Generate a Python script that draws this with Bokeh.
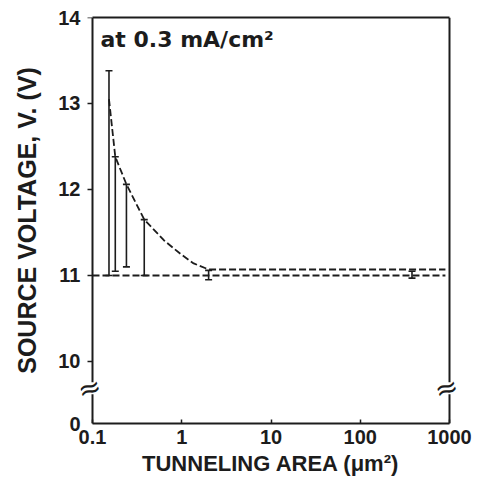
from bokeh.plotting import figure
from bokeh.models import (Range1d, FixedTicker, Whisker, TeeHead, ColumnDataSource,
                          Label, LogAxis, LinearAxis, BoxAnnotation, CustomLabelingPolicy)
from bokeh.embed import file_html
from bokeh.resources import INLINE

# ---- data ----
x_ticks = [0.1, 1, 10, 100, 1000]
x_tick_labels = ["0.1", "1", "10", "100", "1000"]
y_ticks = [10, 11, 12, 13, 14]
y_tick_labels = ["10", "11", "12", "13", "14"]
y_bottom_label = "0"

bar_area = [0.153, 0.18, 0.24, 0.38, 2.0, 380]
bar_high = [13.38, 12.38, 12.06, 11.65, 11.06, 11.05]
bar_low = [11.0, 11.05, 11.10, 11.0, 10.95, 10.97]

upper_area = [0.153, 0.18, 0.24, 0.38, 0.63, 0.97, 1.36, 2.0, 900]
upper_v = [13.05, 12.38, 12.06, 11.65, 11.41, 11.25, 11.14, 11.07, 11.07]

lower_area = [0.1, 900]
lower_v = [11.0, 11.0]

annotation_text = "at 0.3 mA/cm\u00b2"
x_label = "TUNNELING AREA (\u03bcm\u00b2)"
y_label = "SOURCE VOLTAGE, V. (V)"

# ---- layout constants ----
X_LO, X_HI = 0.1, 1000
Y_MIN, Y_MAX = 9.279, 14
BREAK_Y = 9.69
BREAK_HALF = 0.07      # half height of the axis gap (data units)
PX_PER_DEC = 89.25
PAD = 12  # extra frame room (px) left/right of the axis box for the break marks
INK = "#1c1c1c"
FONT = "Liberation Sans"

x_start = X_LO * 10 ** (-PAD / PX_PER_DEC)
x_end = X_HI * 10 ** (PAD / PX_PER_DEC)
gap_f = 10 ** (3 / PX_PER_DEC)

p = figure(frame_width=357 + 2 * PAD, frame_height=406, x_axis_type="log",
           x_range=Range1d(x_start, x_end), y_range=Range1d(Y_MIN, Y_MAX),
           output_backend="svg", toolbar_location=None,
           min_border_left=92 - PAD, min_border_top=17, min_border_right=32,
           min_border_bottom=40, background_fill_color="white",
           border_fill_color="white")

p.outline_line_color = None
p.grid.visible = False

xb = (X_LO * 0.9999, X_HI * 1.0001)
yb = (Y_MIN - 0.0005, Y_MAX + 0.0005)

# bottom x axis
xa = p.xaxis[0]
xa.bounds = xb
xa.ticker = FixedTicker(ticks=x_ticks, minor_ticks=[])
xa.major_label_overrides = {t: l for t, l in zip(x_ticks, x_tick_labels)}
xa.major_tick_in = 4
xa.major_tick_out = 0
xa.minor_tick_in = 0
xa.minor_tick_out = 0
xa.axis_line_width = 2
xa.axis_line_color = INK
xa.major_tick_line_width = 1.5
xa.major_tick_line_color = INK
xa.major_label_standoff = 6
xa.major_label_text_font = FONT
xa.major_label_text_font_style = "bold"
xa.major_label_text_font_size = "20px"
xa.major_label_text_color = INK
xa.axis_label = x_label
xa.axis_label_text_font = FONT
xa.axis_label_text_font_style = "bold"
xa.axis_label_text_font_size = "22px"
xa.axis_label_text_color = INK
xa.axis_label_standoff = 4

# left y axis: labels only (sits at the frame edge)
ya = p.yaxis[0]
ya.ticker = FixedTicker(ticks=[Y_MIN] + y_ticks, minor_ticks=[])
ov = {t: l for t, l in zip(y_ticks, y_tick_labels)}
ov[Y_MIN] = y_bottom_label
ya.major_label_overrides = ov
ya.axis_line_color = None
ya.major_tick_line_color = None
ya.major_tick_in = 0
ya.major_tick_out = 0
ya.minor_tick_in = 0
ya.minor_tick_out = 0
ya.major_label_standoff = 0
ya.major_label_text_font = FONT
ya.major_label_text_font_style = "bold"
ya.major_label_text_font_size = "20px"
ya.major_label_text_color = INK
ya.axis_label = y_label
ya.axis_label_text_font = FONT
ya.axis_label_text_font_style = "bold"
ya.axis_label_text_font_size = "25px"
ya.axis_label_text_color = INK
ya.axis_label_standoff = 14

no_labels = CustomLabelingPolicy(code="for (const i of indices) { indices.unset(i) }\nreturn indices")

# the drawn left axis line with its ticks, pinned at x = 0.1 (ticks point left)
yline = LinearAxis(ticker=FixedTicker(ticks=y_ticks, minor_ticks=[]), bounds=yb,
                   fixed_location=X_LO, axis_line_width=2, axis_line_color=INK,
                   major_tick_in=5, major_tick_out=0, minor_tick_in=0, minor_tick_out=0,
                   major_tick_line_width=1.5, major_tick_line_color=INK,
                   major_label_policy=no_labels)
p.add_layout(yline, "right")

# box: top and right lines as bare axes
top = LogAxis(ticker=FixedTicker(ticks=[], minor_ticks=[]), bounds=xb,
              axis_line_width=2, axis_line_color=INK,
              major_tick_in=0, major_tick_out=0, minor_tick_in=0, minor_tick_out=0)
p.add_layout(top, "above")
right = LinearAxis(ticker=FixedTicker(ticks=[], minor_ticks=[]), bounds=yb,
                   fixed_location=X_HI, axis_line_width=2, axis_line_color=INK,
                   major_tick_in=0, major_tick_out=0, minor_tick_in=0, minor_tick_out=0)
p.add_layout(right, "right")

# dashed curves
p.line(lower_area, lower_v, line_color=INK, line_width=1.8, line_dash="7 3")
p.line(upper_area, upper_v, line_color=INK, line_width=1.8, line_dash="7 3")

# error bars
src = ColumnDataSource(dict(x=bar_area, hi=bar_high, lo=bar_low))
w = Whisker(source=src, base="x", upper="hi", lower="lo", dimension="height",
            line_color=INK, line_width=1.6,
            upper_head=TeeHead(size=7, line_color=INK, line_width=1.6),
            lower_head=TeeHead(size=7, line_color=INK, line_width=1.6))
p.add_layout(w)

# annotation
p.add_layout(Label(x=X_LO, y=Y_MAX, x_offset=8, y_offset=-22, text=annotation_text,
                   text_font="DejaVu Sans", text_font_style="bold",
                   text_font_size="22px", text_color=INK,
                   text_baseline="alphabetic", text_align="left"))

# axis break marks on both vertical axes
for xbk in (X_LO, X_HI):
    p.add_layout(BoxAnnotation(left=xbk / gap_f, right=xbk * gap_f,
                               bottom=BREAK_Y - BREAK_HALF, top=BREAK_Y + BREAK_HALF,
                               fill_color="white", fill_alpha=1.0, line_color=None))
    p.add_layout(Label(x=xbk, y=BREAK_Y, x_offset=-3, text="\u2248",
                       text_font="DejaVu Sans", text_font_size="28px",
                       text_color=INK, angle=0.3,
                       text_align="center", text_baseline="middle"))

open("out.html", "w").write(file_html(p, INLINE))
